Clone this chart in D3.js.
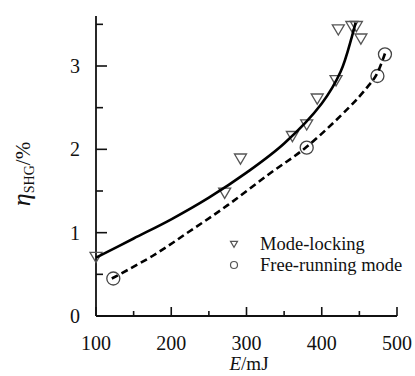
<!DOCTYPE html>
<html><head><meta charset="utf-8">
<script src="https://cdn.jsdelivr.net/npm/d3@7"></script>
<style>body{margin:0;background:#fff}svg{display:block}</style>
</head><body>
<script>
// Data
const modeLockingPts = [[100,0.71],[271,1.48],[292,1.89],[361,2.16],[380,2.30],[394,2.61],[419,2.83],[422,3.44],[440,3.48],[446,3.48],[452,3.33]];
const freeRunningPts = [[123,0.45],[380,2.02],[474,2.88],[484,3.14]];
const modeLockingFit = [[100,0.70],[150,0.93],[200,1.16],[250,1.42],[300,1.72],[350,2.07],[400,2.55],[425,2.93],[440,3.35],[445,3.52]];
const freeRunningFit = [[121,0.45],[175,0.72],[225,1.02],[275,1.33],[331,1.71],[380,2.03],[437,2.51],[460,2.74],[473,2.90],[484,3.15]];
const xTicks = [100,200,300,400,500];
const xMinor = [150,250,350,450];
const yTicks = [0,1,2,3];
const yMinor = [0.5,1.5,2.5,3.5];
const legendLabels = ["Mode-locking","Free-running mode"];

const FONT = "'Liberation Serif', 'Times New Roman', 'DejaVu Serif', serif";
const W=415,H=376;
const svg=d3.select("body").append("svg").attr("width",W).attr("height",H)
  .attr("font-family",FONT).style("font-family",FONT);
const x=d3.scaleLinear().domain([100,500]).range([96,397]);
const y=d3.scaleLinear().domain([0,3.6]).range([316,16]);

const g=svg.append("g");
const txt=(sel)=>sel.attr("font-family",FONT).style("font-family",FONT).attr("fill","#111");
// axes lines
g.append("line").attr("x1",x(100)).attr("x2",x(500)).attr("y1",y(0)).attr("y2",y(0)).attr("stroke","#111").attr("stroke-width",1.8);
g.append("line").attr("x1",x(100)).attr("x2",x(100)).attr("y1",y(0)).attr("y2",y(3.6)).attr("stroke","#111").attr("stroke-width",1.8);
// ticks (inward)
xTicks.forEach(v=>g.append("line").attr("x1",x(v)).attr("x2",x(v)).attr("y1",y(0)).attr("y2",y(0)-9).attr("stroke","#111").attr("stroke-width",1.6));
xMinor.forEach(v=>g.append("line").attr("x1",x(v)).attr("x2",x(v)).attr("y1",y(0)).attr("y2",y(0)-5).attr("stroke","#111").attr("stroke-width",1.6));
yTicks.forEach(v=>g.append("line").attr("x1",x(100)).attr("x2",x(100)+11).attr("y1",y(v)).attr("y2",y(v)).attr("stroke","#111").attr("stroke-width",1.6));
yMinor.forEach(v=>g.append("line").attr("x1",x(100)).attr("x2",x(100)+7).attr("y1",y(v)).attr("y2",y(v)).attr("stroke","#111").attr("stroke-width",1.6));
// tick labels
xTicks.forEach(v=>txt(g.append("text")).attr("x",x(v)).attr("y",350).attr("text-anchor","middle").attr("font-size",20).text(v));
yTicks.forEach(v=>txt(g.append("text")).attr("x",80).attr("y",y(v)+7).attr("text-anchor","end").attr("font-size",20).text(v));
// axis titles
const xt=txt(g.append("text")).attr("x",249).attr("y",370).attr("text-anchor","middle").attr("font-size",19);
xt.append("tspan").attr("font-style","italic").text("E");
xt.append("tspan").text("/mJ");
const yt=txt(g.append("text")).attr("transform","translate(30,174) rotate(-90)").attr("text-anchor","middle").attr("font-size",26);
yt.append("tspan").attr("font-style","italic").text("η");
yt.append("tspan").attr("font-size",14).attr("dy",4).text("SHG");
yt.append("tspan").attr("font-size",21).attr("dy",-4).text("/%");

// markers
const tri=(s)=>`M${-s},${-s*0.75}L${s},${-s*0.75}L0,${s*0.95}Z`;
g.selectAll(".tri").data(modeLockingPts).join("path").attr("d",tri(6))
 .attr("transform",d=>`translate(${x(d[0])},${y(d[1])})`).attr("fill","none").attr("stroke","#555").attr("stroke-width",1.3);
g.selectAll(".circ").data(freeRunningPts).join("circle").attr("cx",d=>x(d[0])).attr("cy",d=>y(d[1])).attr("r",6.5)
 .attr("fill","none").attr("stroke","#444").attr("stroke-width",1.3);

const line=d3.line().x(d=>x(d[0])).y(d=>y(d[1])).curve(d3.curveCatmullRom);
g.append("path").attr("d",line(modeLockingFit)).attr("fill","none").attr("stroke","#000").attr("stroke-width",2.6);
g.append("path").attr("d",line(freeRunningFit)).attr("fill","none").attr("stroke","#000").attr("stroke-width",2.6).attr("stroke-dasharray","7,4");

// legend
g.append("path").attr("d",tri(3.5)).attr("transform","translate(234,244)").attr("fill","none").attr("stroke","#555").attr("stroke-width",1.2);
g.append("circle").attr("cx",234).attr("cy",265).attr("r",3.5).attr("fill","none").attr("stroke","#555").attr("stroke-width",1.2);
txt(g.append("text")).attr("x",260).attr("y",250).attr("font-size",18.5).text(legendLabels[0]);
txt(g.append("text")).attr("x",260).attr("y",271).attr("font-size",18.5).text(legendLabels[1]);
</script>
</body></html>
